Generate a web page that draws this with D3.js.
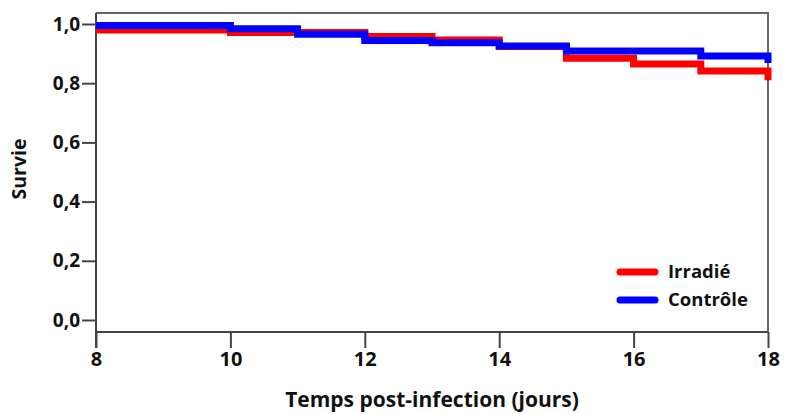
<!DOCTYPE html>
<html>
<head>
<meta charset="utf-8">
<script src="https://cdn.jsdelivr.net/npm/d3@7"></script>
<style>
body { margin: 0; background: #fff; }
svg text { font-family: "Open Sans", "Noto Sans", sans-serif; font-weight: bold; fill: #111; }
</style>
</head>
<body>
<script>
// temps (jours) et survie
let timesIrr = [8, 10, 12, 13, 14, 15, 16, 17, 18];
let survIrr  = [0.980, 0.971, 0.958, 0.946, 0.924, 0.884, 0.865, 0.841, 0.81];
let timesCtl = [8, 10, 11, 12, 13, 14, 15, 17, 18];
let survCtl  = [0.995, 0.984, 0.965, 0.944, 0.937, 0.926, 0.909, 0.892, 0.868];

let seriesNames = ['Irradié', 'Contrôle'];
let seriesColors = ['#ff0000', '#0000ff'];
let xTicks = [8, 10, 12, 14, 16, 18];
let yTicks = [0, 0.2, 0.4, 0.6, 0.8, 1.0];

let width = 787, height = 414;

const svg = d3.select('body').append('svg').attr('width', width).attr('height', height);

let x = d3.scaleLinear().domain([8, 18]).range([96, 768]);
let y = d3.scaleLinear().domain([0, 1]).range([320, 24]);

let frameTop = 13, axisY = 332, tickBottom = 348;
let axisColor = '#444';

// cadre haut + droite
svg.append('path')
	.attr('d', 'M' + x(8) + ',' + frameTop + 'H' + x(18) + 'V' + axisY)
	.attr('fill', 'none').attr('stroke', '#666').attr('stroke-width', 2);

// axe X (décalé sous 0)
let xAxis = svg.append('g').attr('transform', 'translate(0,' + axisY + ')')
	.call(d3.axisBottom(x).tickValues(xTicks).tickSize(tickBottom - axisY).tickPadding(4).tickFormat(d3.format('d')));
xAxis.select('.domain').remove();
xAxis.append('line').attr('x1', x(8)).attr('x2', x(18)).attr('stroke', axisColor).attr('stroke-width', 2);
xAxis.selectAll('.tick line').attr('stroke', axisColor).attr('stroke-width', 2);
xAxis.selectAll('.tick text').attr('font-size', 20).attr('font-family', null).attr('fill', null);

// axe Y
let yAxis = svg.append('g').attr('transform', 'translate(' + x(8) + ',0)')
	.call(d3.axisLeft(y).tickValues(yTicks).tickSize(14).tickPadding(2).tickFormat(d => d3.format('.1f')(d).replace('.', ',')));
yAxis.select('.domain').remove();
yAxis.append('line').attr('y1', frameTop).attr('y2', tickBottom).attr('stroke', axisColor).attr('stroke-width', 2);
yAxis.selectAll('.tick line').attr('stroke', axisColor).attr('stroke-width', 2);
yAxis.selectAll('.tick text').attr('font-size', 19).attr('font-family', null).attr('fill', null);

// courbes de survie (contrôle par dessus)
let series = [
	{ name: seriesNames[0], color: seriesColors[0], t: timesIrr, s: survIrr },
	{ name: seriesNames[1], color: seriesColors[1], t: timesCtl, s: survCtl }
];
let lineFunc = d3.line().x(d => x(d[0])).y(d => y(d[1])).curve(d3.curveStepAfter);
svg.selectAll('.km').data(series).enter().append('path').attr('class', 'km')
	.attr('d', d => lineFunc(d.t.map((t, i) => [t, d.s[i]])))
	.attr('fill', 'none').attr('stroke', d => d.color).attr('stroke-width', 7).attr('stroke-linejoin', 'miter');

// légende
let legend = svg.selectAll('.leg').data(series).enter().append('g').attr('class', 'leg')
	.attr('transform', (d, i) => 'translate(620,' + (272 + i * 28) + ')');
legend.append('line').attr('x1', 0).attr('x2', 35).attr('stroke', d => d.color).attr('stroke-width', 7).attr('stroke-linecap', 'round');
legend.append('text').attr('x', 48).attr('y', 6).attr('font-size', 18.5).text(d => d.name);

// titres des axes
svg.append('text').attr('x', (x(8) + x(18)) / 2).attr('y', 407).attr('text-anchor', 'middle')
	.attr('font-size', 21).text('Temps post-infection (jours)');
svg.append('text').attr('transform', 'translate(26,169) rotate(-90)').attr('text-anchor', 'middle')
	.attr('font-size', 19.5).text('Survie');
</script>
</body>
</html>
